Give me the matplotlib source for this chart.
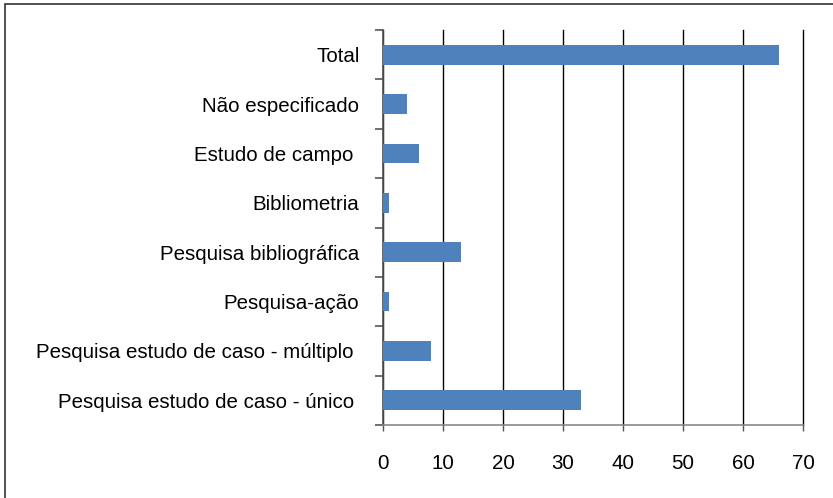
import matplotlib
matplotlib.use("Agg")
import matplotlib.pyplot as plt
from matplotlib.patches import Rectangle
import numpy as np

plt.rcParams['font.family'] = ['Liberation Sans', 'DejaVu Sans']

categories = ["Pesquisa estudo de caso - único ",
              "Pesquisa estudo de caso - múltiplo ",
              "Pesquisa-ação",
              "Pesquisa bibliográfica",
              "Bibliometria",
              "Estudo de campo ",
              "Não especificado",
              "Total"]
values = [33, 8, 1, 13, 1, 6, 4, 66]
xticks = [0, 10, 20, 30, 40, 50, 60, 70]

fig = plt.figure(figsize=(8.33, 4.98), dpi=100)
fig.patches.append(Rectangle((5/833, -0.1), 1.2, 1 - 4/498 + 0.1, transform=fig.transFigure,
                             fill=False, edgecolor='#333333', linewidth=1.2, zorder=0))
ax = fig.add_axes([383/833, 73/498, 420/833, 395/498])

y = np.arange(len(categories))
ax.barh(y, values, height=0.4, color='#4F81BD', zorder=3)

ax.set_xlim(0, 70)
ax.set_ylim(-0.5, len(categories) - 0.5)
ax.set_xticks(xticks)
ax.set_xticklabels([str(t) for t in xticks])
ax.xaxis.grid(True, color='black', linewidth=1.0, zorder=1)
for gl in ax.get_xgridlines():
    gl.set_clip_on(False)
ax.set_axisbelow(True)

ax.set_yticks(np.arange(len(categories) + 1) - 0.5)
ax.set_yticklabels([])
ax.set_yticks(y, minor=True)
ax.set_yticklabels(categories, minor=True, fontsize=14.8)
ax.tick_params(axis='y', which='minor', length=0, pad=17)
ax.tick_params(axis='y', which='major', length=6, width=1.2, color='#555555')
ax.tick_params(axis='x', length=4, width=1.0, color='#555555', pad=17, labelsize=14.8)

for s in ['top', 'right']:
    ax.spines[s].set_visible(False)
ax.spines['left'].set_color('#555555')
ax.spines['left'].set_linewidth(1.2)
ax.spines['bottom'].set_color('#888888')
ax.spines['bottom'].set_linewidth(1.2)

fig.savefig("out.png", dpi=100)
